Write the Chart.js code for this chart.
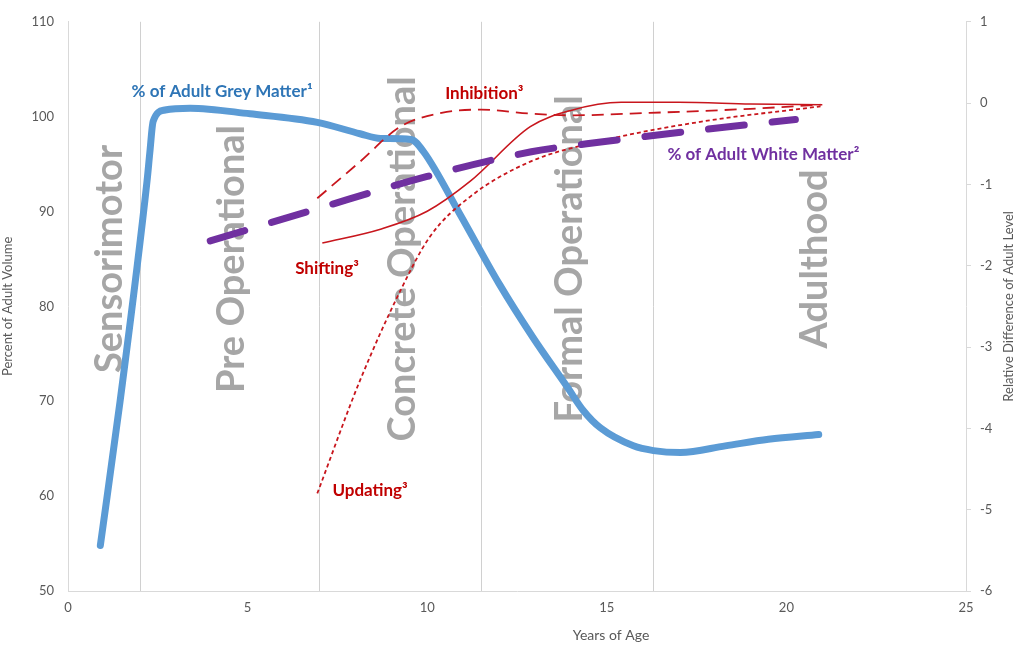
<!DOCTYPE html>
<html>
<head>
<meta charset="utf-8">
<script src="https://cdn.jsdelivr.net/npm/chart.js@4"></script>
<style>
  html, body { margin: 0; background: #fff; }
  #wrap { width: 1016px; height: 645px; }
</style>
</head>
<body>
<div id="wrap"><canvas id="chart"></canvas></div>
<script>
// ---- data ----
const greyAge = [0.9, 1.45, 2.2, 2.28, 2.37, 2.7, 3.4, 5.07, 6.94, 8.13, 8.7, 9.55, 9.9, 10.9, 12.0, 12.95, 13.9, 14.35, 14.82, 15.74, 16.3, 17.05, 18.3, 19.5, 20.9];
const greyPct = [54.8, 70, 93.2, 96.3, 99.5, 100.7, 100.9, 100.3, 99.4, 98.2, 97.7, 97.6, 96.3, 89.8, 82.4, 76.7, 71.5, 69.0, 67.2, 65.3, 64.8, 64.6, 65.3, 66.0, 66.5];

const whiteAge = [3.96, 6.94, 10, 12.9, 15, 17.6, 20.25];
const whitePct = [86.9, 90.3, 93.7, 96.3, 97.4, 98.6, 99.7];

const inhibitionAge = [6.94, 8.13, 9.25, 10.4, 11.5, 12.9, 14, 16.2, 19, 20.95];
const inhibitionDiff = [-1.17, -0.72, -0.29, -0.12, -0.08, -0.13, -0.15, -0.12, -0.07, -0.02];

const shiftingAge = [7.08, 8.7, 10, 11.2, 12.87, 14, 15.4, 17, 19, 21];
const shiftingDiff = [-1.72, -1.55, -1.33, -0.96, -0.29, -0.09, 0.01, 0.01, -0.01, -0.02];

const updatingAge = [6.94, 8.13, 9.25, 10.08, 11.2, 12.87, 14.8, 17.6, 20.95];
const updatingDiff = [-4.8, -3.41, -2.31, -1.64, -1.15, -0.72, -0.47, -0.23, -0.04];

const stageBounds = [2, 7, 11.5, 16.3];
const stageNames = ["Sensorimotor", "Pre Operational", "Concrete Operational", "Formal Operational", "Adulthood"];
const stageCentres = [1.17, 4.57, 9.33, 13.98, 20.8];

const xTicks = [0, 25, 5];
const leftTicks = [50, 110, 10];
const rightTicks = [-6, 1, 1];

const zip = (xs, ys) => xs.map((x, i) => ({ x: x, y: ys[i] }));

// series labels drawn next to the lines: [text, x, y, axis, colour]
const seriesLabels = [
    ["% of Adult Grey Matter\u00B9", 4.29, 102.7, "y", "#2e75b6"],
    ["% of Adult White Matter\u00B2", 19.36, 96.0, "y", "#7030a0"],
    ["Inhibition\u00B3", 11.59, 0.12, "y1", "#c00000"],
    ["Shifting\u00B3", 7.21, -2.03, "y1", "#c00000"],
    ["Updating\u00B3", 8.41, -4.76, "y1", "#c00000"],
];

const FONT = "Lato, 'Open Sans', sans-serif";
const RED = "#c8161d";

const stagePlugin = {
    id: "stages",
    beforeDatasetsDraw(chart) {
        const { ctx, chartArea, scales } = chart;
        ctx.save();
        // stage boundaries
        ctx.strokeStyle = "#d0d0d0";
        ctx.lineWidth = 1;
        stageBounds.forEach((b) => {
            const px = Math.round(scales.x.getPixelForValue(b)) + 0.5;
            ctx.beginPath();
            ctx.moveTo(px, chartArea.top);
            ctx.lineTo(px, chartArea.bottom);
            ctx.stroke();
        });
        // stage names, rotated
        ctx.fillStyle = "#a6a6a6";
        ctx.font = "bold 38px " + FONT;
        ctx.textAlign = "center";
        ctx.textBaseline = "middle";
        stageNames.forEach((name, i) => {
            ctx.save();
            ctx.translate(scales.x.getPixelForValue(stageCentres[i]), scales.y.getPixelForValue(85));
            ctx.rotate(-Math.PI / 2);
            ctx.fillText(name, 0, 0);
            ctx.restore();
        });
        ctx.restore();
    },
    afterDatasetsDraw(chart) {
        const { ctx, chartArea, scales } = chart;
        ctx.save();
        ctx.font = "bold 17px " + FONT;
        ctx.textAlign = "center";
        ctx.textBaseline = "middle";
        seriesLabels.forEach(([t, x, y, ax, c]) => {
            ctx.fillStyle = c;
            ctx.fillText(t, scales.x.getPixelForValue(x), scales[ax].getPixelForValue(y));
        });
        // axis titles
        ctx.fillStyle = "#595959";
        ctx.font = "14px " + FONT;
        ctx.fillText("Years of Age", 611, 635);
        ctx.font = "13px " + FONT;
        ctx.translate(1009, (chartArea.top + chartArea.bottom) / 2);
        ctx.rotate(-Math.PI / 2);
        ctx.fillText("Relative Difference of Adult Level", 0, 0);
        ctx.restore();
    },
};

const lineDefaults = {
    pointRadius: 0,
    cubicInterpolationMode: "monotone",
    fill: false,
};

new Chart(document.getElementById("chart"), {
    type: "line",
    data: {
        datasets: [
            {
                ...lineDefaults,
                label: "% of Adult White Matter",
                data: zip(whiteAge, whitePct),
                borderColor: "#7030a0",
                borderWidth: 7,
                borderDash: [36, 28],
                borderCapStyle: "round",
                yAxisID: "y",
            },
            {
                ...lineDefaults,
                label: "Inhibition",
                data: zip(inhibitionAge, inhibitionDiff),
                borderColor: RED,
                borderWidth: 1.8,
                borderDash: [12, 7],
                yAxisID: "y1",
            },
            {
                ...lineDefaults,
                label: "Shifting",
                data: zip(shiftingAge, shiftingDiff),
                borderColor: RED,
                borderWidth: 1.6,
                yAxisID: "y1",
            },
            {
                ...lineDefaults,
                label: "Updating",
                data: zip(updatingAge, updatingDiff),
                borderColor: RED,
                borderWidth: 1.8,
                borderDash: [4, 3],
                yAxisID: "y1",
            },
            {
                ...lineDefaults,
                label: "% of Adult Grey Matter",
                data: zip(greyAge, greyPct),
                borderColor: "#5b9bd5",
                borderWidth: 7,
                borderCapStyle: "round",
                yAxisID: "y",
            },
        ],
    },
    options: {
        responsive: true,
        maintainAspectRatio: false,
        animation: false,
        layout: { padding: { top: 20 } },
        plugins: {
            legend: { display: false },
            tooltip: { enabled: false },
        },
        scales: {
            x: {
                type: "linear",
                min: xTicks[0],
                max: xTicks[1],
                afterFit: (s) => { s.height = 54; },
                ticks: { stepSize: xTicks[2], color: "#595959", font: { family: FONT, size: 13 }, padding: 9 },
                grid: { display: false, drawTicks: false },
                border: { color: "#d9d9d9" },
            },
            y: {
                position: "left",
                min: leftTicks[0],
                max: leftTicks[1],
                afterFit: (s) => { s.width = 68; },
                ticks: { stepSize: leftTicks[2], color: "#595959", font: { family: FONT, size: 13 }, padding: 14 },
                grid: { display: false, drawTicks: false },
                border: { color: "#d9d9d9" },
                title: {
                    display: true,
                    text: "Percent of Adult Volume",
                    color: "#595959",
                    font: { family: FONT, size: 13 },
                    padding: 0,
                },
            },
            y1: {
                position: "right",
                min: rightTicks[0],
                max: rightTicks[1],
                afterFit: (s) => { s.width = 50; },
                ticks: { stepSize: rightTicks[2], color: "#595959", font: { family: FONT, size: 13 }, padding: 9 },
                grid: { drawOnChartArea: false, tickLength: 5, color: "#d9d9d9" },
                border: { color: "#d9d9d9" },
            },
        },
    },
    plugins: [stagePlugin],
});
</script>
</body>
</html>
